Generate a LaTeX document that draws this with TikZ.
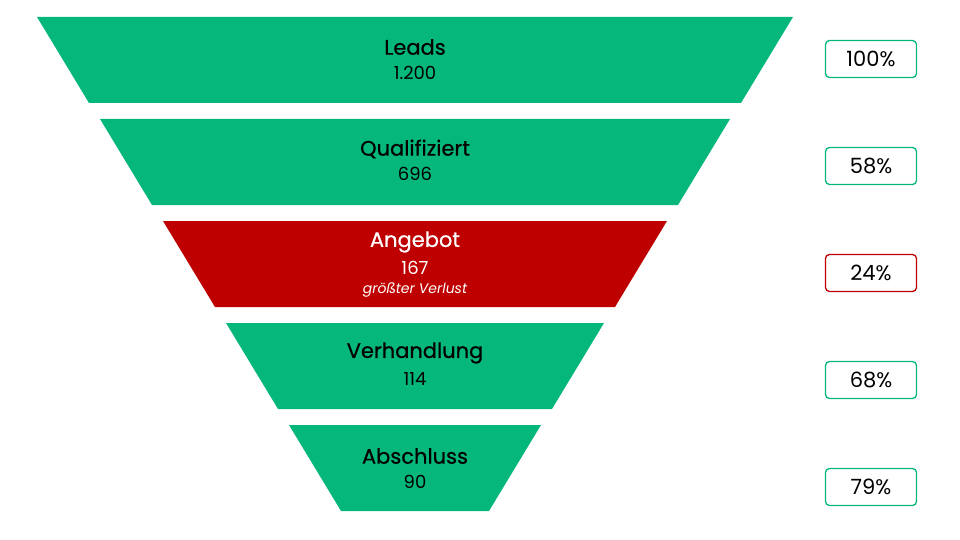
\documentclass[tikz,border=0pt]{standalone}
\usepackage{fontspec}
\setmainfont{Poppins}
\newfontfamily\labelfont[FakeBold=0.6]{Poppins}
\definecolor{funnelgreen}{HTML}{06B77C}
\definecolor{funnelred}{HTML}{BE0000}
\begin{document}
\begin{tikzpicture}[x=1pt,y=-1pt,
  stage/.style={fill=funnelgreen},
  stagehot/.style={fill=funnelred},
  lbl/.style={font=\labelfont\fontsize{21}{25}\selectfont, text=black},
  val/.style={font=\fontsize{18}{22}\selectfont, text=black},
  note/.style={font=\fontsize{14}{17}\selectfont\itshape, text=white},
  pct/.style={draw=funnelgreen, line width=1.3pt, rounded corners=4pt, fill=white,
    minimum width=91pt, minimum height=37pt, inner sep=0pt,
    font=\fontsize{21}{25}\selectfont, text=black},
  pcthot/.style={pct, draw=funnelred}]
\useasboundingbox (0,0) rectangle (960,540);
\def\cx{415}
% funnel stages: top y, top half-width
\foreach \ty/\hw/\sty in {17/378/stage, 119/315/stage, 221/252/stagehot, 323/189/stage, 425/126/stage}{
  \fill[\sty] (\cx-\hw,\ty) -- (\cx+\hw,\ty) -- (\cx+\hw-52,\ty+86) -- (\cx-\hw+52,\ty+86) -- cycle;
}
% stage labels and counts
\node[lbl] (l1) at (\cx,47) {Leads};
\node[val] (v1) at (\cx,73) {1.200};
\node[lbl] (l2) at (\cx,149) {Qualifiziert};
\node[val] (v2) at (\cx,174) {696};
\node[lbl, text=white] (l3) at (\cx,242) {Angebot};
\node[val, text=white] (v3) at (\cx,268) {167};
\node[note] (n3) at (\cx,290) {größter Verlust};
\node[lbl] (l4) at (\cx,353) {Verhandlung};
\node[val] (v4) at (\cx,379) {114};
\node[lbl] (l5) at (\cx,456) {Abschluss};
\node[val] (v5) at (\cx,482) {90};
% conversion rates
\node[pct] (p1) at (871,59) {100\%};
\node[pct] (p2) at (871,166) {58\%};
\node[pcthot] (p3) at (871,273) {24\%};
\node[pct] (p4) at (871,380) {68\%};
\node[pct] (p5) at (871,487) {79\%};
\end{tikzpicture}
\end{document}
